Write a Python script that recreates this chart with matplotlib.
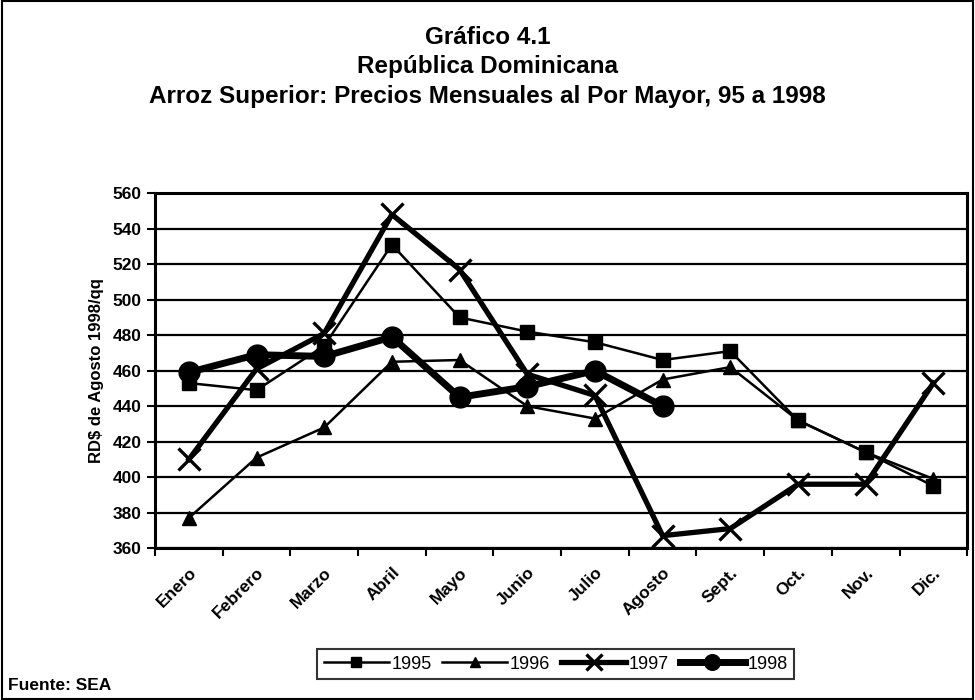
import numpy as np
import matplotlib.pyplot as plt
from matplotlib.patches import Rectangle

plt.rcParams['font.family'] = ['Liberation Sans', 'DejaVu Sans']

meses = ['Enero', 'Febrero', 'Marzo', 'Abril', 'Mayo', 'Junio', 'Julio',
         'Agosto', 'Sept.', 'Oct.', 'Nov.', 'Dic.']
p1995 = [453, 449, 474, 531, 490, 482, 476, 466, 471, 432, 414, 395]
p1996 = [377, 411, 428, 465, 466, 440, 433, 455, 462, 432, 414, 399]
p1997 = [410, 461, 481, 548, 517, 458, 446, 367, 371, 396, 396, 453]
p1998 = [459, 469, 468, 479, 445, 451, 460, 440]

fig = plt.figure(figsize=(9.75, 7.0), dpi=100)
ax = fig.add_axes([0.159, 0.217, 0.833, 0.507])

x = np.arange(len(meses))
ax.plot(x, p1995, color='black', lw=1.8, marker='s', ms=10, label='1995')
ax.plot(x, p1996, color='black', lw=1.8, marker='^', ms=10, label='1996')
ax.plot(x, p1997, color='black', lw=3.8, marker='x', ms=16, mew=2.4, label='1997')
ax.plot(np.arange(len(p1998)), p1998, color='black', lw=5, marker='o', ms=15,
        label='1998')

ax.set_xlim(-0.5, 11.5)
ax.set_ylim(360, 560)
ax.set_yticks(np.arange(360, 561, 20))
ax.yaxis.grid(True, color='black', lw=1.6)
ax.set_axisbelow(True)

ax.set_xticks(x)
ax.set_xticklabels(meses, rotation=45, ha='right', rotation_mode='anchor',
                   fontsize=12.5, fontweight='bold')
for lab in ax.get_yticklabels():
    lab.set_fontweight('bold')
ax.set_xticks(np.arange(-0.5, 12, 1), minor=True)
ax.tick_params(axis='x', which='major', length=0, pad=12)
ax.tick_params(axis='x', which='minor', length=6, width=1.5, direction='out')
ax.tick_params(axis='y', length=6, width=1.5, labelsize=12.5, direction='out')
for s in ax.spines.values():
    s.set_linewidth(2.2)

ax.set_ylabel('RD$ de Agosto 1998/qq', fontsize=12, fontweight='bold', labelpad=6)

fig.text(0.5, 0.947, 'Gráfico 4.1', ha='center', va='center',
         fontsize=17.5, fontweight='bold')
fig.text(0.5, 0.905, 'República Dominicana', ha='center', va='center',
         fontsize=17.5, fontweight='bold')
fig.text(0.5, 0.862, 'Arroz Superior: Precios Mensuales al Por Mayor, 95 a 1998',
         ha='center', va='center', fontsize=17.5, fontweight='bold')

leg = fig.legend(loc='center', bbox_to_anchor=(0.570, 0.051), ncol=4,
                 prop={'size': 13}, frameon=True, fancybox=False,
                 edgecolor='black', handlelength=3.6, handletextpad=0.15,
                 columnspacing=0.6, borderpad=0.35, markerscale=0.75)
leg.get_frame().set_linewidth(1.5)

fig.text(0.008, 0.021, 'Fuente: SEA', ha='left', va='center', fontsize=12.5,
         fontweight='bold')

fig.patches.append(Rectangle((0.002, 0.002), 0.996, 0.996, transform=fig.transFigure,
                             fill=False, edgecolor='black', lw=1.5))

fig.savefig('out.png', dpi=100)
